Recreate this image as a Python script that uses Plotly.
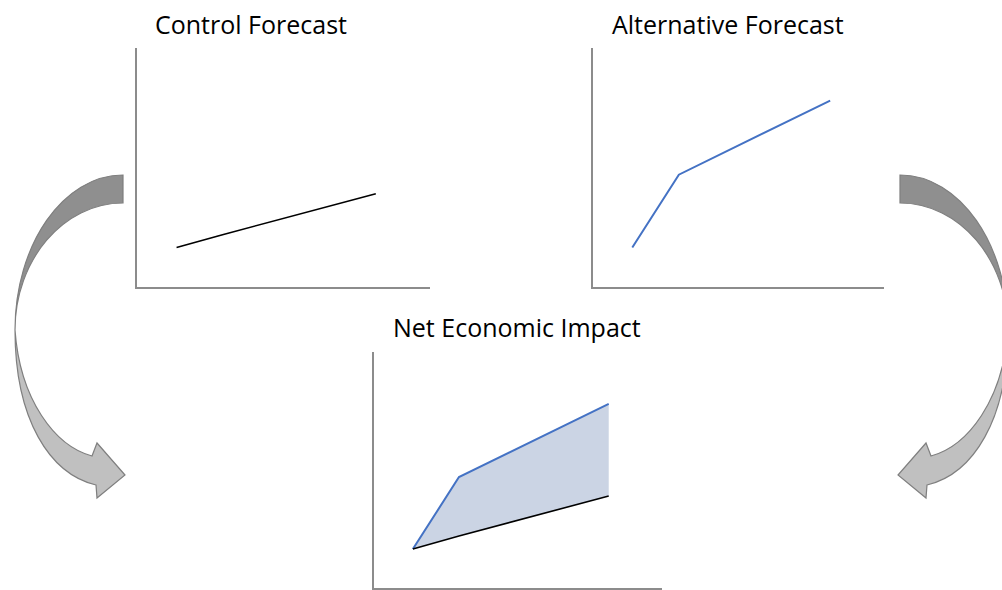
import plotly.graph_objects as go

# ---- data ----
periods = [1.35, 2.95, 8.15]
control = [1.65, 2.2, 3.9]
alternative = [1.65, 4.7, 7.8]
titles = ["Control Forecast", "Alternative Forecast", "Net Economic Impact"]

W, H = 1002, 590
AX = "#8c8c8c"
BLUE = "#4472c4"
FILL = "#cbd4e4"
DARK = "#8f8f8f"
LIGHT = "#c0c0c0"
EDGE = "#7f7f7f"

fig = go.Figure()

# panel 1: control
fig.add_trace(go.Scatter(x=periods, y=control, mode="lines",
                         line=dict(color="black", width=1.6), xaxis="x", yaxis="y",
                         hoverinfo="skip"))
# panel 2: alternative
fig.add_trace(go.Scatter(x=periods, y=alternative, mode="lines",
                         line=dict(color=BLUE, width=2), xaxis="x2", yaxis="y2",
                         hoverinfo="skip"))
# panel 3: net impact (area between)
fig.add_trace(go.Scatter(x=periods + periods[::-1], y=alternative + control[::-1],
                         mode="lines", fill="toself", fillcolor=FILL,
                         line=dict(width=0), xaxis="x3", yaxis="y3", hoverinfo="skip"))
fig.add_trace(go.Scatter(x=periods, y=alternative, mode="lines",
                         line=dict(color=BLUE, width=2), xaxis="x3", yaxis="y3",
                         hoverinfo="skip"))
fig.add_trace(go.Scatter(x=periods, y=control, mode="lines",
                         line=dict(color="black", width=1.6), xaxis="x3", yaxis="y3",
                         hoverinfo="skip"))


def xdom(a, b):
    return [a / W, b / W]


def ydom(top, bottom):
    return [1 - bottom / H, 1 - top / H]


axis_common = dict(range=[0, 10], showline=True, linecolor=AX, linewidth=2,
                   showgrid=False, zeroline=False, showticklabels=False, ticks="",
                   fixedrange=True)

layout = dict(
    width=W, height=H, margin=dict(l=0, r=0, t=0, b=0),
    paper_bgcolor="white", plot_bgcolor="rgba(0,0,0,0)", showlegend=False,
    xaxis=dict(domain=xdom(137, 430), anchor="y", **axis_common),
    yaxis=dict(domain=ydom(48, 287), anchor="x", **axis_common),
    xaxis2=dict(domain=xdom(593, 884), anchor="y2", **axis_common),
    yaxis2=dict(domain=ydom(48, 287), anchor="x2", **axis_common),
    xaxis3=dict(domain=xdom(374, 662), anchor="y3", **axis_common),
    yaxis3=dict(domain=ydom(352, 588), anchor="x3", **axis_common),
    xaxis4=dict(domain=[0, 1], range=[0, W], visible=False, anchor="y4", fixedrange=True),
    yaxis4=dict(domain=[0, 1], range=[H, 0], visible=False, anchor="x4", fixedrange=True),
)
fig.update_layout(**layout)
# dummy trace to activate overlay axes
fig.add_trace(go.Scatter(x=[0], y=[0], mode="markers", marker=dict(opacity=0),
                         xaxis="x4", yaxis="y4", hoverinfo="skip"))


def mirror(pts):
    return [(1023 - x, y) for x, y in pts]


def fmt(p):
    return f"{p[0]:.1f},{p[1]:.1f}"


k = 0.5523
# left arrow geometry (pixel coords)
upper = [("M", [(123, 175)]),
         ("C", [(123 - 108 * k, 175), (15, 330 - 155 * k), (15, 330)]),
         ("C", [(15, 330 - 127 * k), (123 - 108 * k, 203), (123, 203)]),
         ("Z", [])]
lower = [("M", [(15, 330)]),
         ("C", [(15, 420), (50, 474), (96, 485)]),
         ("L", [(97, 498)]),
         ("L", [(125, 475)]),
         ("L", [(97, 443)]),
         ("L", [(92, 456)]),
         ("C", [(55, 446), (20, 400), (15, 330)]),
         ("Z", [])]


def build(segs, mir=False):
    out = []
    for cmd, pts in segs:
        if mir:
            pts = mirror(pts)
        out.append(cmd + " ".join(fmt(p) for p in pts))
    return " ".join(out)


shapes = []
for mir in (False, True):
    shapes.append(dict(type="path", xref="x4", yref="y4", path=build(upper, mir),
                       fillcolor=DARK, line=dict(color=EDGE, width=1.2)))
    shapes.append(dict(type="path", xref="x4", yref="y4", path=build(lower, mir),
                       fillcolor=LIGHT, line=dict(color=EDGE, width=1.2)))
fig.update_layout(shapes=shapes)

title_pos = [(251, 24), (728, 24), (517, 327)]
for t, (x, y) in zip(titles, title_pos):
    fig.add_annotation(text=t, x=x, y=y, xref="x4", yref="y4", showarrow=False,
                       font=dict(family="Open Sans", size=25, color="black"),
                       xanchor="center", yanchor="middle")

fig.write_html("out.html")
